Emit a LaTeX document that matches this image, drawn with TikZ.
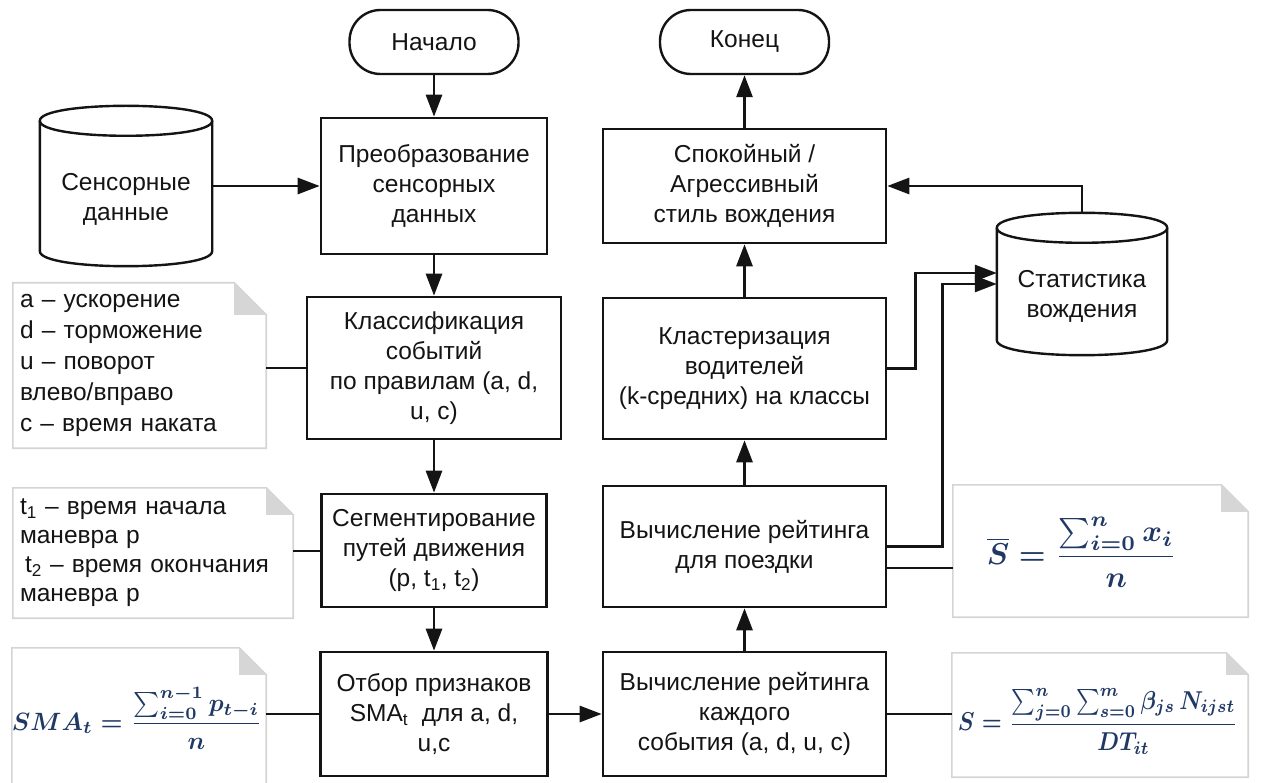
\documentclass[tikz,border=0pt]{standalone}
\usepackage{fontspec}
\usepackage{graphicx}
\setmainfont{Liberation Sans}
\usetikzlibrary{arrows.meta,calc}

\definecolor{mathnavy}{RGB}{32,56,100}
\definecolor{noteline}{RGB}{212,212,212}
\definecolor{notefold}{RGB}{214,214,214}
\definecolor{ink}{RGB}{20,20,20}

\tikzset{
  txt/.style={font=\fontsize{24.5}{30}\selectfont, text=ink, align=center},
  procbox/.style={txt, draw=ink, line width=2.6pt, inner sep=4pt},
  termbox/.style={txt, draw=ink, line width=2.4pt, rounded corners=31pt,
    minimum width=169pt, minimum height=64pt},
  cylbox/.style={inner sep=0pt},
  cylline/.style={draw=ink, line width=2.4pt, line join=round},
  flow/.style={draw=ink, line width=2.8pt, -{Triangle[length=22pt,width=16pt]}},
  link/.style={draw=ink, line width=2pt},
  notebox/.style={txt, align=left, inner xsep=7pt, inner ysep=0pt},
  noteframe/.style={draw=noteline, line width=1.6pt, line join=miter},
  mathtxt/.style={inner sep=0pt, text=mathnavy},
}

% folded-corner note outline around a named node; #2 is the fold size
\newcommand{\drawnotebox}[2]{%
  \draw[noteframe] (#1.south west) -- (#1.north west)
    -- ($(#1.north east)+(-#2,0)$) -- ($(#1.north east)+(0,#2)$)
    -- (#1.south east) -- cycle;
  \fill[notefold] ($(#1.north east)+(-#2,0)$) -- ($(#1.north east)+(-#2,#2)$)
    -- ($(#1.north east)+(0,#2)$) -- cycle;
}

% database cylinder drawn around a named node (top of node = top of the lid)
\newcommand{\drawcylinder}[1]{%
  \draw[cylline] ($(#1.north west)+(0,15)$) -- ($(#1.south west)+(0,-15)$)
    .. controls +(0,20) and +(0,20) .. ($(#1.south east)+(0,-15)$)
    -- ($(#1.north east)+(0,15)$)
    .. controls +(0,-20) and +(0,-20) .. ($(#1.north west)+(0,15)$) -- cycle;
  \draw[cylline] ($(#1.north west)+(0,15)$)
    .. controls +(0,20) and +(0,20) .. ($(#1.north east)+(0,15)$);
}

\begin{document}
\begin{tikzpicture}[x=1pt, y=-1pt]
\useasboundingbox (0,0) rectangle (1261,783);
\clip (0,0) rectangle (1261,783);

% ---------- left column ----------
\node[termbox] (nach) at (434,42) {Начало};
\node[procbox, minimum width=226pt, minimum height=136pt] (preob) at (434,186)
  {Преобразование\\сенсорных\\данных};
\node[procbox, minimum width=254pt, minimum height=142pt] (klass) at (434,368)
  {Классификация\\событий\\по правилам (a, d,\\u, c)};
\node[procbox, minimum width=225pt, minimum height=113pt] (segm) at (434,550.5)
  {Сегментирование\\путей движения\\(p, t\textsubscript{1}, t\textsubscript{2})};
\node[procbox, minimum width=227pt, minimum height=124pt] (otbor) at (434,714)
  {Отбор признаков\\SMA\textsubscript{t}\ \ для a, d,\\u,c};

% ---------- right column ----------
\node[termbox] (kon) at (744.5,42) {Конец};
\node[procbox, minimum width=283pt, minimum height=114pt] (spok) at (744.5,186)
  {Спокойный /\\Агрессивный\\стиль вождения};
\node[procbox, minimum width=283pt, minimum height=141pt] (klast) at (744.5,368.5)
  {Кластеризация\\водителей\\(k-средних) на классы};
\node[procbox, minimum width=283pt, minimum height=121pt] (poezd) at (744.5,546.5)
  {Вычисление рейтинга\\для поездки};
\node[procbox, minimum width=283pt, minimum height=124pt] (kazhd) at (744.5,714)
  {Вычисление рейтинга\\каждого\\события (a, d, u, c)};

% ---------- data stores ----------
\node[cylbox, minimum width=172pt, minimum height=160pt] (sens) at (126,186) {};
\drawcylinder{sens}
\node[txt] (sensT) at ($(sens.center)+(0,13)$) {Сенсорные\\данные};

\node[cylbox, minimum width=170pt, minimum height=142pt] (stat) at (1082,284) {};
\drawcylinder{stat}
\node[txt] (statT) at ($(stat.center)+(0,12)$) {Статистика\\вождения};

% ---------- notes ----------
\node[notebox, text width=239pt, minimum height=165pt,
      font=\fontsize{24.5}{31}\selectfont] (n1) at (139.5,365.5)
  {a – ускорение\\d – торможение\\u – поворот\\влево/вправо\\c – время наката};
\drawnotebox{n1}{32}

\node[notebox, text width=266pt, minimum height=130pt,
      font=\fontsize{24.5}{29}\selectfont] (n2) at (153,553)
  {t\textsubscript{1} – время начала\\маневра p\\\hspace*{5pt}t\textsubscript{2} – время окончания\\маневра p};
\drawnotebox{n2}{27}

\node[minimum width=254pt, minimum height=140pt, inner sep=0pt] (n3) at (139,718) {};
\drawnotebox{n3}{27}
\node[mathtxt] (f3) at (137,718)
  {\resizebox*{250pt}{62pt}{\boldmath$\displaystyle SMA_t=\frac{\sum_{i=0}^{n-1}p_{t-i}}{n}$}};

\node[minimum width=295pt, minimum height=132pt, inner sep=0pt] (n4) at (1100.5,551) {};
\drawnotebox{n4}{27}
\node[mathtxt] (f4) at (1082,552)
  {\resizebox*{190pt}{70pt}{\boldmath$\displaystyle \overline{S}=\frac{\sum_{i=0}^{n}x_i}{n}$}};

\node[minimum width=296pt, minimum height=124pt, inner sep=0pt] (n5) at (1100,715) {};
\drawnotebox{n5}{22}
\node[mathtxt] (f5) at (1098,721)
  {\resizebox*{280pt}{66pt}{\boldmath$\displaystyle S=\frac{\sum_{j=0}^{n}\sum_{s=0}^{m}\beta_{js}\,N_{ijst}}{DT_{it}}$}};

% ---------- flow connectors ----------
\draw[flow] (nach) -- (preob);
\draw[flow] (preob) -- (klass);
\draw[flow] (klass) -- (segm);
\draw[flow] (segm) -- (otbor);
\draw[flow] (otbor) -- (kazhd);
\draw[flow] (kazhd) -- (poezd);
\draw[flow] (poezd) -- (klast);
\draw[flow] (klast) -- (spok);
\draw[flow] (spok) -- (kon);
\draw[flow] (preob.west -| sens.east) -- (preob.west);
\draw[flow] (stat.north) |- (spok.east);
\draw[flow] (klast.east) -- ++(28,0) |- ($(stat.west)+(0,-11)$);
\draw[flow] (poezd.east) -- ++(55,0) |- (stat.west);

% ---------- note links ----------
\draw[link] (klass.west) -- (klass.west -| n1.east);
\draw[link] (segm.west) -- (segm.west -| n2.east);
\draw[link] (otbor.west) -- (otbor.west -| n3.east);
\draw[link] ($(poezd.east)+(0,21)$) -- ($(poezd.east -| n4.west)+(0,21)$);
\draw[link] (kazhd.east) -- (kazhd.east -| n5.west);
\end{tikzpicture}
\end{document}
